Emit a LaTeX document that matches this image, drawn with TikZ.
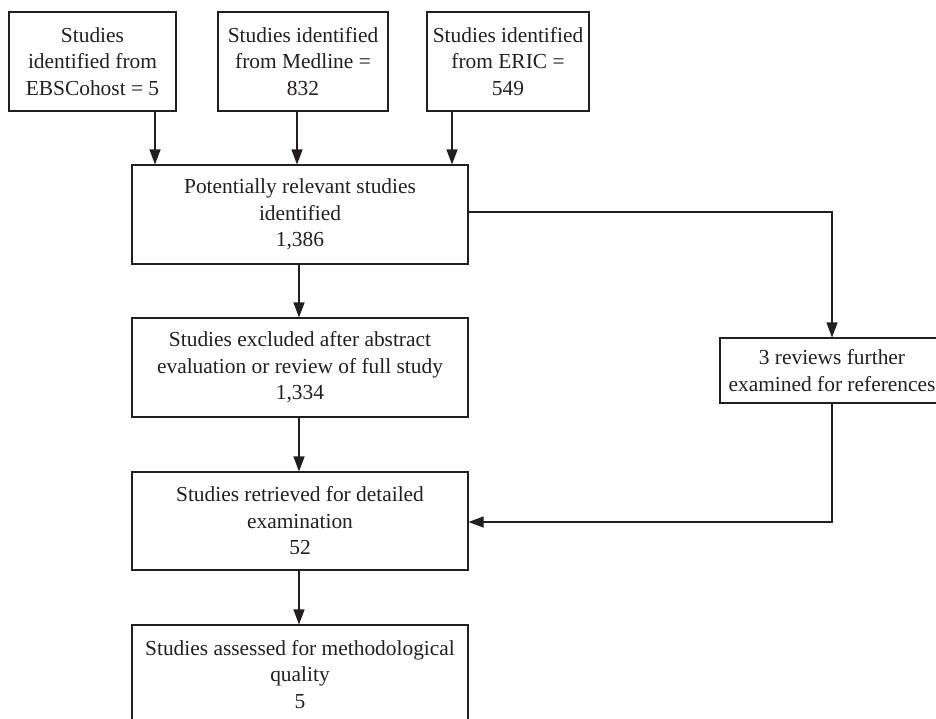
\documentclass[tikz,border=0pt]{standalone}
\usepackage{fontspec}
\setmainfont{Liberation Serif}
\usetikzlibrary{arrows.meta}
\definecolor{ink}{HTML}{231F20}
\tikzset{
  box/.style={draw=ink, line width=1.1pt, rectangle, inner sep=0pt, align=center,
    text=ink, font=\fontsize{21.4}{26.5}\selectfont},
  arr/.style={draw=ink, line width=1.1pt, -{Triangle[width=11pt,length=15pt]}},
  ln/.style={draw=ink, line width=1.1pt}
}
\begin{document}
\begin{tikzpicture}[x=1pt,y=-1pt]
\useasboundingbox (0,0) rectangle (936,718);
\clip (0,0) rectangle (936,718);
\fill[white] (0,0) rectangle (936,718);
\node[box, minimum width=167pt, minimum height=99pt] (A) at (92.5,61.5) {Studies\\identified from\\EBSCohost = 5};
\node[box, minimum width=170pt, minimum height=99pt] (B) at (303,61.5) {Studies identified\\from Medline =\\832};
\node[box, minimum width=162pt, minimum height=99pt] (C) at (508,61.5) {Studies identified\\from ERIC =\\549};
\node[box, minimum width=336pt, minimum height=99pt] (D) at (300,214.5) {Potentially relevant studies\\identified\\1,386};
\node[box, minimum width=336pt, minimum height=99pt] (E) at (300,367.5) {Studies excluded after abstract\\evaluation or review of full study\\1,334};
\node[box, minimum width=336pt, minimum height=98pt] (F) at (300,521) {Studies retrieved for detailed\\examination\\52};
\node[box, minimum width=336pt, minimum height=99pt] (G) at (300,674.5) {Studies assessed for methodological\\quality\\5};
\node[box, minimum width=224pt, minimum height=65pt] (R) at (832,370.5) {3 reviews further\\examined for references};
\coordinate (xa) at (155,0);
\coordinate (xb) at (297,0);
\coordinate (xc) at (452,0);
\coordinate (xd) at (299,0);
\coordinate (yd) at (0,212);
\coordinate (yf) at (0,522);
\draw[arr] (A.south -| xa) -- (D.north -| xa);
\draw[arr] (B.south -| xb) -- (D.north -| xb);
\draw[arr] (C.south -| xc) -- (D.north -| xc);
\draw[arr] (D.south -| xd) -- (E.north -| xd);
\draw[arr] (E.south -| xd) -- (F.north -| xd);
\draw[arr] (F.south -| xd) -- (G.north -| xd);
\draw[arr] (D.east |- yd) -| (R.north);
\draw[arr] (R.south) |- (F.east |- yf);
\end{tikzpicture}
\end{document}
